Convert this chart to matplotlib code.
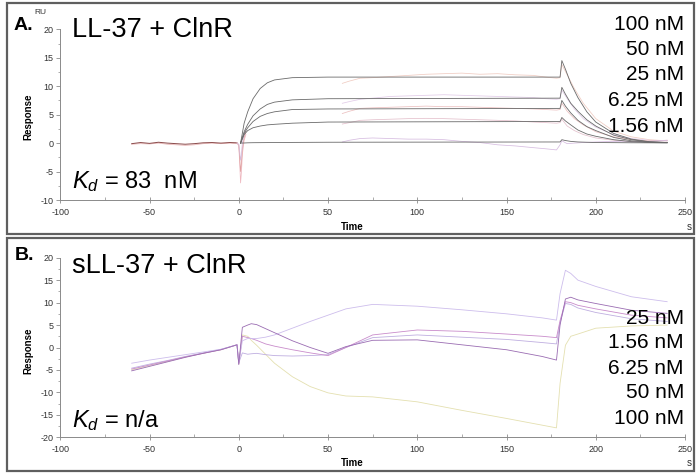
import matplotlib
matplotlib.use('Agg')
import matplotlib.pyplot as plt
from matplotlib.patches import Rectangle
from matplotlib.ticker import MultipleLocator

plt.rcParams['font.family'] = ['Liberation Sans', 'DejaVu Sans']
plt.rcParams['axes.unicode_minus'] = False
plt.rcParams['mathtext.fontset'] = 'custom'
plt.rcParams['mathtext.it'] = 'Liberation Sans:italic'
plt.rcParams['mathtext.rm'] = 'Liberation Sans'

# ---- panel A: LL-37 + ClnR ----
conc_a = ["100 nM", "50 nM", "25 nM", "6.25 nM", "1.56 nM"]

# fitted curves (association 1..180 s, dissociation 180..240 s)
t_fit = [1, 3, 5, 8, 12, 16, 20, 30, 50, 180, 181, 183, 186, 190, 195, 200, 210, 220, 230, 240]
fit_100 = [0, 3.5, 5.5, 7.8, 9.6, 10.6, 11.1, 11.5, 11.6, 11.6, 14.5, 13.0, 10.5, 8.0, 5.5, 3.7, 1.7, 0.7, 0.25, 0.1]
fit_50 = [0, 2.0, 3.3, 4.8, 6.0, 6.8, 7.2, 7.6, 7.8, 7.9, 9.8, 8.6, 7.0, 5.6, 4.1, 3.0, 1.4, 0.6, 0.2, 0.1]
fit_25 = [0, 1.7, 2.7, 3.8, 4.7, 5.2, 5.5, 5.9, 6.0, 6.1, 7.5, 6.5, 5.3, 4.0, 2.9, 2.2, 1.0, 0.4, 0.15, 0.1]
fit_6 = [0, 1.5, 2.2, 2.7, 3.0, 3.2, 3.3, 3.5, 3.7, 3.8, 4.5, 3.9, 3.2, 2.3, 1.6, 1.2, 0.6, 0.25, 0.1, 0.05]
fit_1 = [0, 0.02, 0.05, 0.07, 0.08, 0.09, 0.1, 0.12, 0.15, 0.2, 0.6, 0.45, 0.3, 0.2, 0.15, 0.1, 0.08, 0.06, 0.05, 0.05]

# measured sensorgrams
t_base = [-60, -55, -50, -45, -40, -35, -30, -25, -20, -15, -10, -5, -1]
base_a = [-0.1, 0.1, -0.05, 0.15, 0.0, -0.1, -0.2, -0.1, 0.05, 0.1, 0.0, 0.1, 0.05]
base_a2 = [-0.2, -0.1, -0.15, 0.0, -0.2, -0.3, -0.4, -0.3, -0.1, 0.0, -0.1, 0.0, -0.1]
t_spike = [-1, 0, 0.5, 1, 1.5, 2, 3, 4]
spike_1 = [0.05, -0.5, -3.5, -7.0, -5.0, -2.0, 0.5, 1.5]
spike_2 = [0.0, -0.3, -2.5, -5.0, -3.5, -1.0, 1.0, 2.0]
spike_3 = [0.0, -0.2, -1.5, -3.0, -2.0, 0.0, 1.5, 2.5]

t_data = [58, 62, 68, 75, 85, 95, 105, 115, 125, 135, 145, 155, 165, 172, 178,
          180, 181, 184, 188, 193, 200, 210, 220, 230, 240]
data_100 = [10.5, 10.9, 11.4, 11.5, 11.7, 11.9, 12.1, 12.2, 12.3, 12.1, 12.2, 12.0, 11.9, 11.6, 11.4,
            11.5, 13.8, 12.0, 9.6, 7.0, 4.3, 2.1, 1.1, 0.6, 0.4]
data_50 = [7.0, 7.3, 7.7, 7.9, 8.2, 8.3, 8.4, 8.5, 8.4, 8.3, 8.2, 8.1, 8.0, 7.8, 7.7,
           7.8, 9.3, 7.8, 6.0, 4.3, 2.8, 1.5, 0.8, 0.5, 0.4]
data_25 = [5.2, 5.6, 6.1, 6.2, 6.3, 6.4, 6.5, 6.4, 6.4, 6.3, 6.2, 6.1, 6.0, 5.9, 5.8,
           5.9, 7.0, 5.6, 4.3, 3.2, 2.0, 1.1, 0.6, 0.4, 0.5]
data_6 = [3.35, 3.6, 4.0, 4.1, 4.2, 4.3, 4.35, 4.3, 4.2, 4.1, 4.0, 3.9, 3.7, 3.6, 3.5,
          3.6, 4.2, 3.0, 2.2, 1.5, 0.9, 0.5, 0.3, 0.3, 0.4]
data_1 = [0.2, 0.5, 0.8, 0.9, 0.8, 0.7, 0.7, 0.6, 0.3, 0.1, -0.3, -0.5, -0.8, -1.0, -1.2,
          -0.3, 0.4, -0.1, 0.0, 0.1, 0.2, 0.3, 0.2, 0.3, 0.5]

# ---- panel B: sLL-37 + ClnR ----
conc_b = ["25 nM", "1.56 nM", "6.25 nM", "50 nM", "100 nM"]
t_b = [-60, -50, -40, -30, -20, -10, -1, 0, 2, 5, 7, 10, 15, 20, 30, 40, 50, 60, 75,
       100, 125, 150, 170, 178, 180, 183, 186, 190, 200, 220, 240]
b_25 = [-3.5, -2.8, -2.2, -1.6, -1.0, -0.4, 0.6, -3.5, 1.5, 2.0, 2.0, 2.0, 2.3, 2.8, 4.3, 5.8, 7.2, 8.6, 9.6,
        9.2, 8.4, 7.5, 6.6, 6.1, 12.0, 17.2, 16.5, 15.0, 13.6, 11.3, 10.2]
b_1 = [-5.2, -4.2, -3.2, -2.2, -1.3, -0.5, 0.6, -3.8, 4.5, 5.0, 5.3, 5.1, 4.2, 3.3, 1.5, 0.0, -1.3, 0.2, 1.6,
       1.7, 0.6, -0.5, -2.0, -2.8, 5.0, 10.8, 11.2, 10.6, 9.8, 8.3, 7.6]
b_6 = [-4.8, -3.9, -3.0, -2.1, -1.3, -0.5, 0.6, -3.6, 2.5, 2.2, 2.0, 1.6, 0.8, 0.3, -0.5, -1.2, -1.8, 0.0, 2.8,
       3.9, 3.6, 3.0, 2.5, 2.2, 6.0, 10.2, 10.0, 9.4, 8.6, 7.2, 6.6]
b_50 = [-4.6, -3.7, -2.9, -2.0, -1.2, -0.4, 0.6, -3.4, -1.2, -1.5, -1.4, -1.3, -1.6, -1.8, -1.9, -1.8, -1.6, 0.0, 2.2,
        2.8, 2.3, 1.8, 1.1, 0.8, 5.5, 9.8, 9.6, 8.8, 7.8, 6.4, 5.8]
b_100 = [-5.0, -4.0, -3.1, -2.1, -1.3, -0.5, 0.6, -3.7, 2.8, 2.5, 1.6, 0.5, -1.5, -3.5, -6.5, -8.7, -10.1, -10.8, -11.0,
         -12.1, -14.0, -15.8, -17.3, -17.9, -8.0, 0.5, 2.5, 3.0, 4.3, 4.8, 5.0]


def style_axis(ax, ylim, ystep):
    ax.set_xlim(-100, 250)
    ax.set_ylim(*ylim)
    for side in ('top', 'right'):
        ax.spines[side].set_visible(False)
    for side in ('left', 'bottom'):
        ax.spines[side].set_color('#8a8a8a')
        ax.spines[side].set_linewidth(0.7)
    ax.xaxis.set_major_locator(MultipleLocator(50))
    ax.xaxis.set_minor_locator(MultipleLocator(25))
    ax.yaxis.set_major_locator(MultipleLocator(ystep))
    ax.yaxis.set_minor_locator(MultipleLocator(ystep / 2))
    ax.tick_params(axis='x', which='major', direction='inout', length=5, width=0.6,
                   color='#8a8a8a', labelsize=6.5, labelcolor='#333333', pad=3)
    ax.tick_params(axis='x', which='minor', direction='in', length=2.5, width=0.5, color='#8a8a8a')
    ax.tick_params(axis='y', which='major', direction='out', length=3, width=0.6,
                   color='#8a8a8a', labelsize=6.5, labelcolor='#333333', pad=2)
    ax.tick_params(axis='y', which='minor', direction='out', length=1.5, width=0.5, color='#8a8a8a')
    ax.patch.set_alpha(0)


fig = plt.figure(figsize=(7.0, 4.73), dpi=100)

# panel frames
fig.patches.append(Rectangle((7 / 700, 1 - 234 / 473), 687 / 700, 231 / 473, transform=fig.transFigure,
                             fill=False, edgecolor='#5f5f5f', linewidth=1.6))
fig.patches.append(Rectangle((7 / 700, 1 - 471 / 473), 687 / 700, 233 / 473, transform=fig.transFigure,
                             fill=False, edgecolor='#5f5f5f', linewidth=1.6))

# ---- A ----
axA = fig.add_axes([60.3 / 700, 1 - 200 / 473, 624.7 / 700, 170.7 / 473])
style_axis(axA, (-10, 20), 5)
lw_d = 0.55
axA.plot(t_base, base_a2, color='#e8b4b4', lw=lw_d)
axA.plot(t_base, base_a, color='#8a4a4a', lw=0.7)
axA.plot(t_spike, spike_1, color='#eeb8c0', lw=lw_d)
axA.plot(t_spike, spike_2, color='#e0a0a0', lw=lw_d)
axA.plot(t_spike, spike_3, color='#d4bcdc', lw=lw_d)
data_cols = ['#f0ccc2', '#e2cce8', '#ecc0c0', '#e4c0cc', '#d6bce0']
for vals, c in zip([data_100, data_50, data_25, data_6, data_1], data_cols):
    axA.plot(t_data, vals, color=c, lw=lw_d)
for vals in [fit_100, fit_50, fit_25, fit_6, fit_1]:
    axA.plot(t_fit, vals, color='#6a6a6a', lw=0.6)

# ---- B ----
axB = fig.add_axes([60.3 / 700, 1 - 437.3 / 473, 624.7 / 700, 179.6 / 473])
style_axis(axB, (-20, 20), 5)
series_b = [b_100, b_50, b_6, b_25, b_1]
b_cols = ['#e4e0b0', '#bfaee0', '#c98ccb', '#cdbdec', '#9a6cb2']
for vals, c in zip(series_b, b_cols):
    axB.plot(t_b, vals, color=c, lw=0.6)

# ---- texts ----
def fig_text(x, y, s, **kw):
    fig.text(x / 700, 1 - y / 473, s, **kw)

fig_text(14, 26, "A.", fontsize=14, fontweight='bold', va='center', ha='left')
fig_text(40, 12, "RU", fontsize=6, va='center', ha='center', color='#333333')
fig_text(72, 30, "LL-37 + ClnR", fontsize=19.5, va='center', ha='left')
fig_text(72, 182, r"$K_d$ = 83  nM", fontsize=17, va='center', ha='left')
for i, lab in enumerate(conc_a):
    fig_text(684, 24 + 25.5 * i, lab, fontsize=15, va='center', ha='right')

fig_text(15, 255, "B.", fontsize=14, fontweight='bold', va='center', ha='left')
fig_text(72, 266, "sLL-37 + ClnR", fontsize=19.5, va='center', ha='left')
fig_text(72, 421, r"$K_d$ = n/a", fontsize=17, va='center', ha='left')
for i, lab in enumerate(conc_b):
    fig_text(684, 318 + 25 * i, lab, fontsize=15, va='center', ha='right')

for yc, yt in [(117, 227), (351, 463)]:
    fig_text(28, yc, "Response", fontsize=7, fontweight='bold', rotation=90, va='center', ha='center')
    fig_text(352, yt, "Time", fontsize=7, fontweight='bold', va='center', ha='center')
    fig_text(689, yt, "s", fontsize=7, va='center', ha='center', color='#333333')

fig.savefig('out.png', dpi=100, facecolor='white')
